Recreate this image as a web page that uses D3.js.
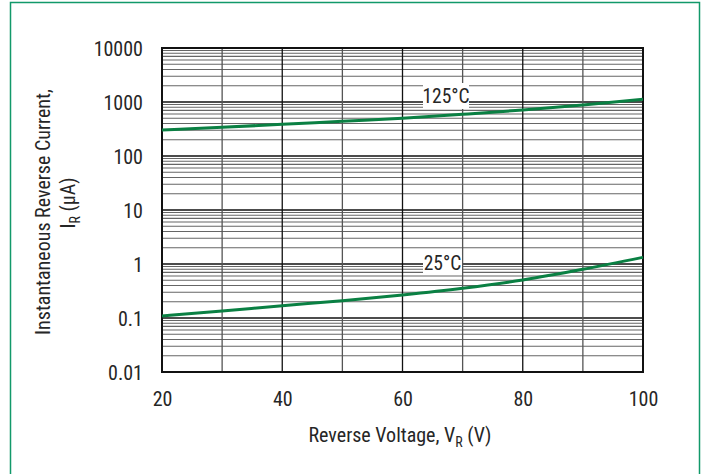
<!DOCTYPE html>
<html><head><meta charset="utf-8">
<script src="https://cdn.jsdelivr.net/npm/d3@7"></script>
<style>
html,body{margin:0;padding:0;background:#fff;}
text{font-family:"Roboto Condensed","Liberation Sans Narrow","DejaVu Sans Condensed",sans-serif;font-weight:400;fill:#262626;}
</style></head>
<body><svg id="c" width="704" height="474"></svg>
<script>
const voltage = [20,30,40,50,60,70,80,90,100];
const ir125 = [303,340,386,440,500,592,711,880,1122];
const ir25 = [0.109,0.135,0.169,0.209,0.267,0.355,0.506,0.798,1.33];
const xTicks = [20,40,60,80,100];
const yTicks = [0.01,0.1,1,10,100,1000,10000];
const yTickLabels = ["0.01","0.1","1","10","100","1000","10000"];
const seriesLabels = ["125°C","25°C"];

const svg = d3.select("#c");
const L=162, R=643, T=48, B=372;
const x = d3.scaleLinear().domain([20,100]).range([L,R]);
const y = d3.scaleLog().domain([0.01,10000]).range([B,T]);

// outer frame
svg.append("rect").attr("x",10.5).attr("y",2.5).attr("width",689).attr("height",480)
  .attr("fill","none").attr("stroke","#12996a").attr("stroke-width",1.5);

const g = svg.append("g");
// minor horizontal grid
const minor=[];
for(let e=-2;e<4;e++){for(let m=2;m<=9;m++){minor.push(m*Math.pow(10,e));}}
g.selectAll(".hmin").data(minor).join("line")
  .attr("x1",L).attr("x2",R).attr("y1",d=>y(d)).attr("y2",d=>y(d))
  .attr("stroke","#666").attr("stroke-width",1.1);
g.selectAll(".hmaj").data(yTicks).join("line")
  .attr("x1",L).attr("x2",R).attr("y1",d=>y(d)).attr("y2",d=>y(d))
  .attr("stroke","#111").attr("stroke-width",1.3);
// vertical grid
g.selectAll(".v").data(d3.range(30,100,10)).join("line")
  .attr("y1",T).attr("y2",B).attr("x1",d=>x(d)).attr("x2",d=>x(d))
  .attr("stroke",d=>d%20===0?"#111":"#555").attr("stroke-width",1.3);
// frame
g.append("rect").attr("x",L).attr("y",T).attr("width",R-L).attr("height",B-T)
  .attr("fill","none").attr("stroke","#111").attr("stroke-width",2);

// label boxes
const lbl = [
  {t:seriesLabels[0], bx:423, by:83, bw:46, bh:26, tx:446, ty:102.5},
  {t:seriesLabels[1], bx:423, by:255, bw:39, bh:20, tx:442.5, ty:270}
];
lbl.forEach(d=>{
  svg.append("rect").attr("x",d.bx).attr("y",d.by).attr("width",d.bw).attr("height",d.bh).attr("fill","#fff");
});

// curves
const line = d3.line().curve(d3.curveMonotoneX);
[ir125, ir25].forEach(s=>{
  svg.append("path").attr("d", line(voltage.map((v,i)=>[x(v), y(s[i])])))
    .attr("fill","none").attr("stroke","#0a8043").attr("stroke-width",3);
});

lbl.forEach(d=>{
  svg.append("text").attr("x",d.tx).attr("y",d.ty).attr("text-anchor","middle")
    .attr("font-size",19.5).text(d.t);
});

// axes with d3 axis
const yAxis = d3.axisLeft(y).tickValues(yTicks).tickFormat((d,i)=>yTickLabels[i]).tickSize(0).tickPadding(19);
const ya = svg.append("g").attr("transform",`translate(${L},0)`).call(yAxis);
ya.select(".domain").remove();
ya.attr("font-family",null).attr("font-size",null);
ya.selectAll("text").attr("font-size",20).attr("dy","0.36em").style("fill","#262626");

const xAxis = d3.axisBottom(x).tickValues(xTicks).tickFormat(d3.format("d")).tickSize(0).tickPadding(20);
const xa = svg.append("g").attr("transform",`translate(0,${B})`).call(xAxis);
xa.select(".domain").remove();
xa.attr("font-family",null).attr("font-size",null);
xa.selectAll("text").attr("font-size",20).style("fill","#262626");

// axis titles
const xt = svg.append("text").attr("x",400).attr("y",442).attr("text-anchor","middle").attr("font-size",20);
xt.append("tspan").text("Reverse Voltage, V");
xt.append("tspan").attr("font-size",14).attr("dy",5).text("R");
xt.append("tspan").attr("dy",-5).text(" (V)");

const yt1 = svg.append("text").attr("transform","translate(50,212) rotate(-90)").attr("text-anchor","middle").attr("font-size",20)
  .text("Instantaneous Reverse Current,");
const yt2 = svg.append("text").attr("transform","translate(75,203) rotate(-90)").attr("text-anchor","middle").attr("font-size",20);
yt2.append("tspan").text("I");
yt2.append("tspan").attr("font-size",14).attr("dy",5).text("R");
yt2.append("tspan").attr("dy",-5).text(" (µA)");
</script></body></html>
